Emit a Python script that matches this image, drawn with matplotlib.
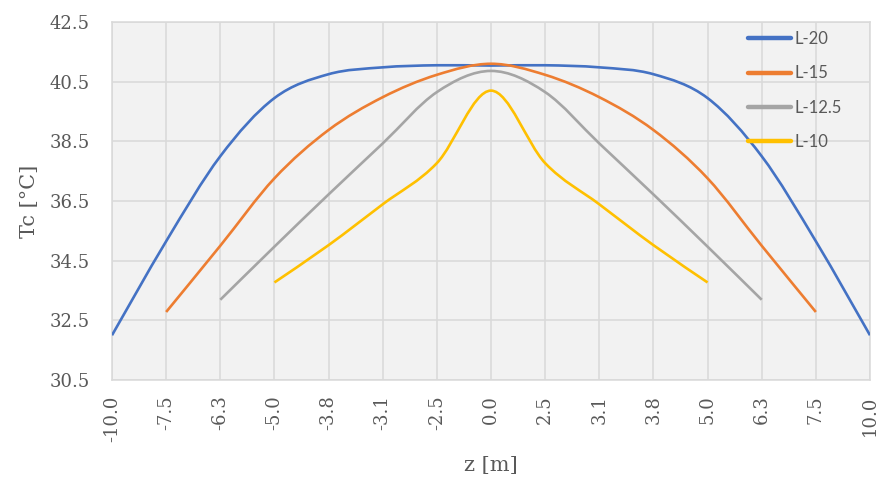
import numpy as np
import matplotlib
matplotlib.use('Agg')
import matplotlib.pyplot as plt
from matplotlib.path import Path
from matplotlib.patches import PathPatch
from matplotlib.lines import Line2D

# x is categorical (evenly spaced), as in the original spreadsheet chart
categories = ['-10.0', '-7.5', '-6.3', '-5.0', '-3.8', '-3.1', '-2.5', '0.0',
              '2.5', '3.1', '3.8', '5.0', '6.3', '7.5', '10.0']

L20 = [32.0, 35.15, 38.0, 39.95, 40.75, 40.98, 41.05, 41.04,
       41.05, 40.98, 40.75, 39.95, 38.0, 35.15, 32.0]
L15 = [None, 32.78, 35.0, 37.26, 38.88, 39.98, 40.73, 41.1,
       40.73, 39.98, 38.88, 37.26, 35.0, 32.78, None]
L12_5 = [None, None, 33.19, 34.97, 36.72, 38.43, 40.15, 40.86,
         40.15, 38.43, 36.72, 34.97, 33.19, None, None]
L10 = [None, None, None, 33.77, 35.02, 36.39, 37.77, 40.2,
       37.77, 36.39, 35.02, 33.77, None, None, None]

series = [('L-20', L20, '#4472C4'),
          ('L-15', L15, '#ED7D31'),
          ('L-12.5', L12_5, '#A5A5A5'),
          ('L-10', L10, '#FFC000')]

yticks = [30.5, 32.5, 34.5, 36.5, 38.5, 40.5, 42.5]


def smooth_path(xs, ys):
    # smoothed line like excel: bezier segments through every point
    pts = np.column_stack([xs, ys]).astype(float)
    n = len(pts)
    verts = [pts[0]]
    codes = [Path.MOVETO]
    for i in range(n - 1):
        p0 = pts[max(i - 1, 0)]
        p1 = pts[i]
        p2 = pts[i + 1]
        p3 = pts[min(i + 2, n - 1)]
        verts += [p1 + (p2 - p0) / 6, p2 - (p3 - p1) / 6, p2]
        codes += [Path.CURVE4] * 3
    return Path(verts, codes)


fig = plt.figure(figsize=(8.82, 4.82), dpi=100)
ax = fig.add_axes([112 / 882, 1 - 380 / 482, 758 / 882, 358 / 482])
ax.set_facecolor('#F2F2F2')

handles = []
for name, vals, col in series:
    idx = [i for i, v in enumerate(vals) if v is not None]
    ys = [vals[i] for i in idx]
    patch = PathPatch(smooth_path(idx, ys), fill=False, edgecolor=col,
                      linewidth=1.9, capstyle='butt', joinstyle='round', zorder=3)
    ax.add_patch(patch)
    handles.append(Line2D([], [], color=col, linewidth=3.2, solid_capstyle='round'))

ax.set_xlim(0, len(categories) - 1)
ax.set_ylim(30.5, 42.5)
ax.set_xticks(range(len(categories)))
ax.set_xticklabels(categories, rotation=90)
ax.set_yticks(yticks)
ax.set_yticklabels([f'{t:.1f}' for t in yticks])

ax.grid(True, color='#D9D9D9', linewidth=1.1)
ax.set_axisbelow(True)
for s in ax.spines.values():
    s.set_color('#D9D9D9')
    s.set_linewidth(1.1)

serif = 'DejaVu Serif'
ax.tick_params(axis='both', length=0, colors='#595959', labelsize=13)
ax.tick_params(axis='y', pad=16)
ax.tick_params(axis='x', pad=11)
for lab in ax.get_xticklabels() + ax.get_yticklabels():
    lab.set_family(serif)

ax.set_ylabel('Tc [°C]', fontsize=15, family=serif, color='#595959')
ax.yaxis.set_label_coords(-0.096, 0.5)
ax.set_xlabel('z [m]', fontsize=15, family=serif, color='#595959')
ax.xaxis.set_label_coords(0.5, -0.212)

leg = ax.legend(handles, [s[0] for s in series], loc='upper left',
                bbox_to_anchor=(748 / 882, 1 - 31 / 482), bbox_transform=fig.transFigure,
                frameon=False, borderpad=0, borderaxespad=0,
                handlelength=2.6, handletextpad=0.2, labelspacing=1.1,
                prop={'family': 'Lato', 'size': 12})
for t in leg.get_texts():
    t.set_color('#595959')

fig.savefig('out.png', dpi=100)
